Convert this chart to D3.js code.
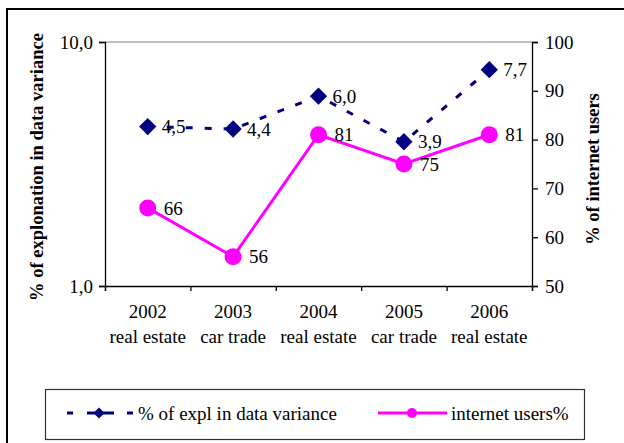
<!DOCTYPE html>
<html>
<head>
<meta charset="utf-8">
<script src="https://cdn.jsdelivr.net/npm/d3@7"></script>
<style>
  body { margin: 0; background: #fff; }
  svg text { font-family: "Liberation Serif", "Times New Roman", Times, "DejaVu Serif", serif; }
</style>
</head>
<body>
<svg id="chart"></svg>
<script>
// dados
const years = ["2002", "2003", "2004", "2005", "2006"]
const branches = ["real estate", "car trade", "real estate", "car trade", "real estate"]
const explVariance = [4.5, 4.4, 6.0, 3.9, 7.7]     // eixo esquerdo (log)
const internetUsers = [66, 56, 81, 75, 81]          // eixo direito
const leftTicks = [1, 10]
const rightTicks = [50, 60, 70, 80, 90, 100]

const width = 624
const height = 443
const plot = { left: 105, right: 532, top: 42, bottom: 286 }
const fs = 19

const svg = d3.select("#chart")
    .attr("width", width)
    .attr("height", height)

const comma1 = v => d3.format(".1f")(v).replace(".", ",")

// moldura exterior (cortada a direita e em baixo)
svg.append("rect")
    .attr("x", 7).attr("y", 9)
    .attr("width", 700).attr("height", 500)
    .attr("fill", "none")
    .attr("stroke", "#000")
    .attr("stroke-width", 2)

const x = d3.scaleBand().domain(years).range([plot.left, plot.right])
const xEdge = d3.scaleLinear().domain([0, years.length]).range([plot.left, plot.right])
const yLeft = d3.scaleLog().domain([1, 10]).range([plot.bottom, plot.top])
const yRight = d3.scaleLinear().domain([50, 100]).range([plot.bottom, plot.top])

// borda de cima da area do grafico
svg.append("line")
    .attr("x1", plot.left).attr("x2", plot.right)
    .attr("y1", plot.top).attr("y2", plot.top)
    .attr("stroke", "#808080")
    .attr("stroke-width", 1)

// eixo esquerdo
const gLeft = svg.append("g")
    .attr("transform", `translate(${plot.left},0)`)
    .call(d3.axisLeft(yLeft).tickValues(leftTicks).tickFormat(comma1).tickSize(6).tickPadding(6))

// eixo direito
const gRight = svg.append("g")
    .attr("transform", `translate(${plot.right},0)`)
    .call(d3.axisRight(yRight).tickValues(rightTicks).tickSize(6).tickPadding(7))

// eixo de baixo (ticks nas fronteiras das categorias)
const gBottom = svg.append("g")
    .attr("transform", `translate(0,${plot.bottom})`)
    .call(d3.axisBottom(xEdge).tickValues(d3.range(years.length + 1)).tickSize(5).tickFormat(""))

for (const g of [gLeft, gRight, gBottom]) {
    g.attr("font-family", null)
    g.select(".domain").attr("stroke", "#000").attr("stroke-width", 1.3)
    g.selectAll(".tick line").attr("stroke", "#000").attr("stroke-width", 1.3)
    g.selectAll("text")
        .attr("font-size", fs)
        .attr("fill", "#000")
}

// rotulos das categorias
const catLabels = svg.append("g")
    .attr("font-size", fs)
    .attr("text-anchor", "middle")

catLabels.selectAll(".yr")
    .data(years)
    .join("text")
    .attr("x", d => x(d) + x.bandwidth() / 2)
    .attr("y", 318)
    .text(d => d)

catLabels.selectAll(".br")
    .data(branches)
    .join("text")
    .attr("x", (d, i) => x(years[i]) + x.bandwidth() / 2)
    .attr("y", 343)
    .text(d => d)

// titulos dos eixos
svg.append("text")
    .attr("transform", `translate(43,167) rotate(-90)`)
    .attr("text-anchor", "middle")
    .attr("font-weight", "bold")
    .attr("font-size", 18.5)
    .text("% of explonation in data variance")

svg.append("text")
    .attr("transform", `translate(599,169) rotate(-90)`)
    .attr("text-anchor", "middle")
    .attr("font-weight", "bold")
    .attr("font-size", 18.5)
    .text("% of internet users")

const cx = i => x(years[i]) + x.bandwidth() / 2

// serie internet users (magenta)
const pinkData = internetUsers.map((v, i) => ({ i, v }))

svg.append("path")
    .datum(pinkData)
    .attr("fill", "none")
    .attr("stroke", "#ff00ff")
    .attr("stroke-width", 3)
    .attr("d", d3.line().x(d => cx(d.i)).y(d => yRight(d.v)))

svg.selectAll(".pinkDot")
    .data(pinkData)
    .join("circle")
    .attr("cx", d => cx(d.i))
    .attr("cy", d => yRight(d.v))
    .attr("r", 8.5)
    .attr("fill", "#ff00ff")

// serie % of expl (azul escuro, tracejado)
const blueData = explVariance.map((v, i) => ({ i, v }))

svg.append("path")
    .datum(blueData)
    .attr("fill", "none")
    .attr("stroke", "#000080")
    .attr("stroke-width", 3)
    .attr("stroke-dasharray", "7,12")
    .attr("d", d3.line().x(d => cx(d.i)).y(d => yLeft(d.v)))

svg.selectAll(".blueMark")
    .data(blueData)
    .join("path")
    .attr("transform", d => `translate(${cx(d.i)},${yLeft(d.v)}) rotate(45)`)
    .attr("d", d3.symbol().type(d3.symbolSquare).size(150))
    .attr("fill", "#000080")

// rotulos dos valores
svg.selectAll(".blueLbl")
    .data(blueData)
    .join("text")
    .attr("x", d => cx(d.i) + 14)
    .attr("y", d => yLeft(d.v))
    .attr("dy", "0.35em")
    .attr("font-size", fs)
    .text(d => comma1(d.v))

svg.selectAll(".pinkLbl")
    .data(pinkData)
    .join("text")
    .attr("x", d => cx(d.i) + 16)
    .attr("y", d => yRight(d.v))
    .attr("dy", "0.35em")
    .attr("font-size", fs)
    .text(d => d.v)

// legenda
const legend = svg.append("g")

legend.append("rect")
    .attr("x", 45.5).attr("y", 389.5)
    .attr("width", 539).attr("height", 50)
    .attr("fill", "#fff")
    .attr("stroke", "#333")
    .attr("stroke-width", 1.2)

legend.append("line")
    .attr("x1", 67).attr("x2", 133)
    .attr("y1", 413).attr("y2", 413)
    .attr("stroke", "#000080")
    .attr("stroke-width", 3)
    .attr("stroke-dasharray", "6,14,27,13,6")

legend.append("path")
    .attr("transform", "translate(99,413) rotate(45)")
    .attr("d", d3.symbol().type(d3.symbolSquare).size(60))
    .attr("fill", "#000080")

legend.append("text")
    .attr("x", 138).attr("y", 413).attr("dy", "0.35em")
    .attr("font-size", fs)
    .text("% of expl in data variance")

legend.append("line")
    .attr("x1", 378).attr("x2", 447)
    .attr("y1", 413).attr("y2", 413)
    .attr("stroke", "#ff00ff")
    .attr("stroke-width", 3)

legend.append("circle")
    .attr("cx", 412).attr("cy", 413)
    .attr("r", 5)
    .attr("fill", "#ff00ff")

legend.append("text")
    .attr("x", 451).attr("y", 413).attr("dy", "0.35em")
    .attr("font-size", fs)
    .text("internet users%")
</script>
</body>
</html>
